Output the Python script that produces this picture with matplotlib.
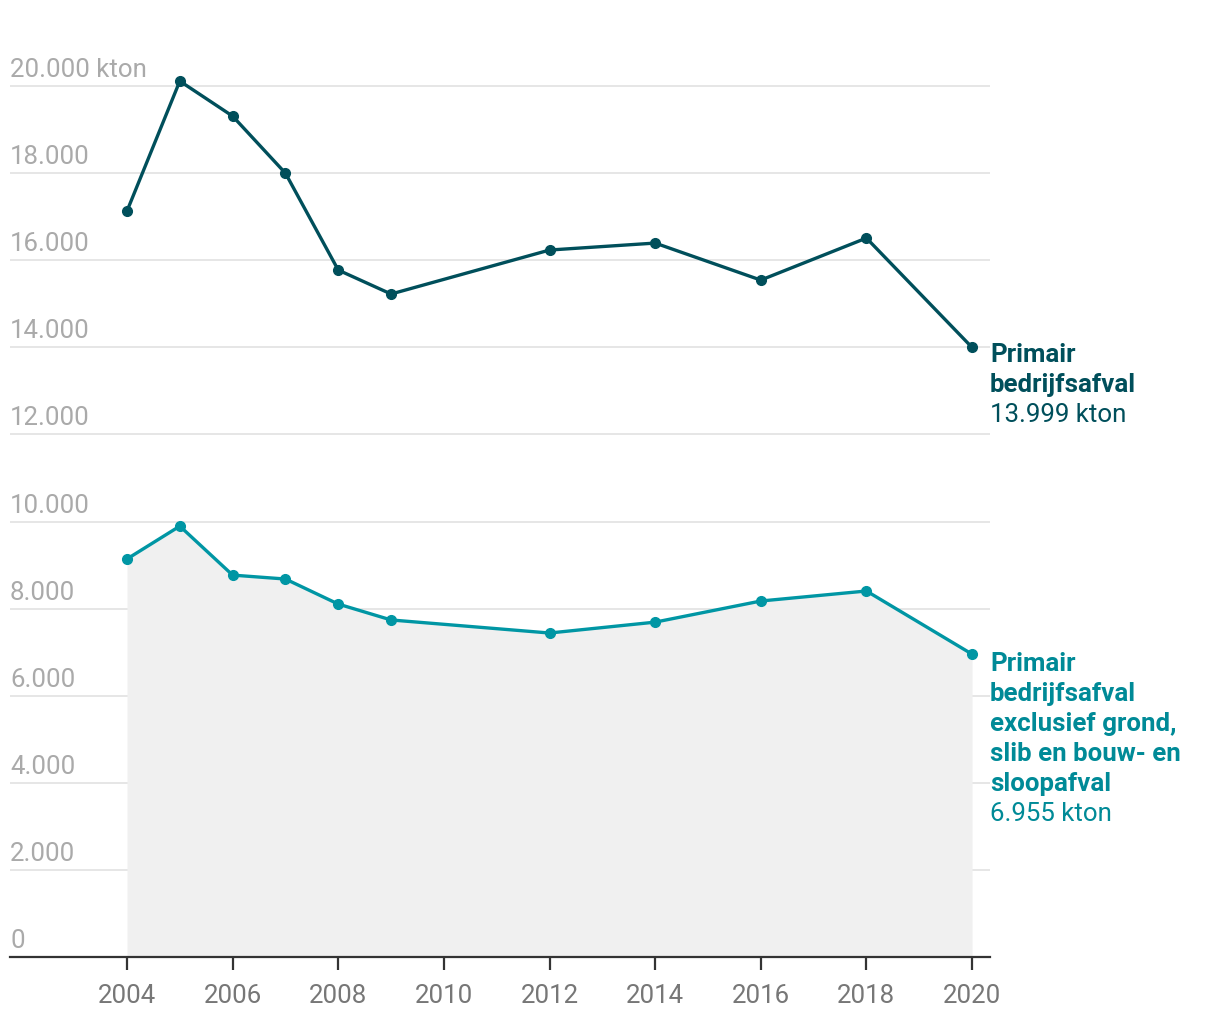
import numpy as np
import matplotlib.pyplot as plt
import matplotlib.transforms as mtransforms

plt.rcParams['font.family'] = ['Roboto', 'DejaVu Sans']

# data (kton)
years = [2004, 2005, 2006, 2007, 2008, 2009, 2012, 2014, 2016, 2018, 2020]
primair = [17130, 20115, 19310, 18000, 15775, 15225, 16235, 16395, 15545, 16510, 13999]
primair_excl = [9140, 9895, 8770, 8680, 8105, 7740, 7440, 7690, 8175, 8405, 6955]
yticks = [0, 2000, 4000, 6000, 8000, 10000, 12000, 14000, 16000, 18000, 20000]
xticks = [2004, 2006, 2008, 2010, 2012, 2014, 2016, 2018, 2020]

c_dark = "#004f5b"
c_light = "#0096a4"
c_light_txt = "#008a97"
FS = 18.6

def fmt(v):
    return f"{v:,}".replace(",", ".")

fig = plt.figure(figsize=(12.2, 10.2), dpi=100)
ax = fig.add_axes([10/1220, 62/1020, 980/1220, 958/1020])
ax.set_xlim(2001.785, 2020.34)
ax.set_ylim(0, 22000)

# grid lines
for v in yticks[1:]:
    ax.axhline(v, color="#e2e2e2", lw=1.2, zorder=0)

# shaded area under lower series
ax.fill_between(years, 0, primair_excl, color="#f0f0f0", lw=0, zorder=0.5)

ax.plot(years, primair, color=c_dark, lw=2.4, marker="o", ms=7, zorder=3, clip_on=False)
ax.plot(years, primair_excl, color=c_light, lw=2.4, marker="o", ms=7, zorder=3, clip_on=False)

# y labels above grid lines
trans = mtransforms.blended_transform_factory(ax.transAxes, ax.transData)
trans = mtransforms.offset_copy(trans, fig=fig, x=0, y=10, units="dots")
for v in yticks:
    lab = fmt(v) + (" kton" if v == yticks[-1] else "")
    ax.text(0, v, lab, transform=trans, ha="left", va="baseline",
            fontsize=FS, color="#aaaaaa")

# x axis
ax.set_xticks(xticks)
ax.set_xticklabels([str(x) for x in xticks], fontsize=FS, color="#777777")
ax.tick_params(axis="x", length=9, width=1.6, color="#333333", pad=10)
ax.set_yticks([])
for s in ["top", "right", "left"]:
    ax.spines[s].set_visible(False)
ax.spines["bottom"].set_color("#333333")
ax.spines["bottom"].set_linewidth(1.6)

# end labels, one line at a time (30 px line pitch)
def end_label(y, bold_lines, value, color, dy0):
    lines = [(t, "bold") for t in bold_lines] + [(fmt(value) + " kton", "normal")]
    for i, (t, w) in enumerate(lines):
        tr = mtransforms.offset_copy(ax.transData, fig=fig, x=18, y=dy0 - 30 * i, units="dots")
        ax.text(years[-1], y, t, transform=tr, ha="left", va="center_baseline",
                fontsize=FS, fontweight=w, color=color)

end_label(primair[-1], ["Primair", "bedrijfsafval"], primair[-1], c_dark, -4)
end_label(primair_excl[-1],
          ["Primair", "bedrijfsafval", "exclusief grond,", "slib en bouw- en", "sloopafval"],
          primair_excl[-1], c_light_txt, -6)

fig.savefig("out.png", dpi=100)
